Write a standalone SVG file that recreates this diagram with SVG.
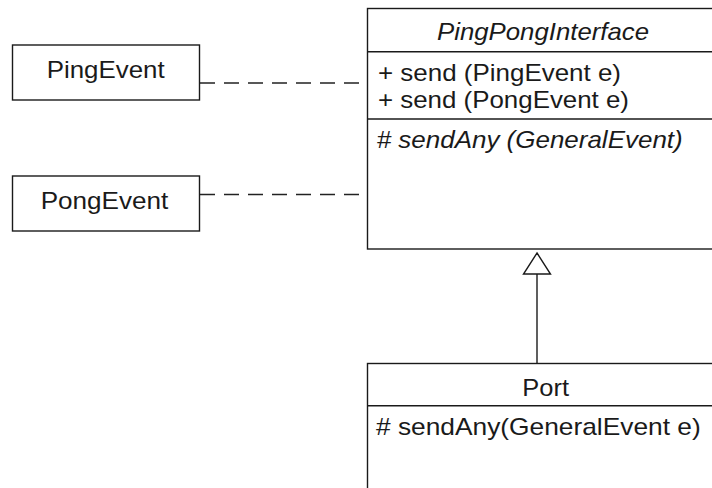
<svg xmlns="http://www.w3.org/2000/svg" width="712" height="488" viewBox="0 0 712 488">
<style>
.box{fill:#fff;stroke:#1a1a1a;stroke-width:1.4}
.div{stroke:#1a1a1a;stroke-width:1.4;fill:none}
.t{font-family:"Liberation Sans",Arial,sans-serif;font-size:24px;fill:#1a1a1a}
.i{font-style:italic}
.dash{stroke:#222;stroke-width:1.4;stroke-dasharray:15 9;fill:none}
.gen{stroke:#1a1a1a;stroke-width:1.4;fill:none}
</style>
<rect width="712" height="488" fill="#fff"/>
<g id="connectors">
<line class="dash" x1="200" y1="83" x2="367" y2="83"/>
<line class="dash" x1="200" y1="194.5" x2="367" y2="194.5"/>
<line class="gen" x1="537" y1="274" x2="537" y2="363.5"/>
<polygon class="gen" points="537,253 550.5,274 523.5,274" fill="#fff"/>
</g>
<g id="PingEvent">
<rect class="box" x="12.5" y="45" width="187" height="55"/>
<text class="t" x="46.7" y="77.5" textLength="118" lengthAdjust="spacingAndGlyphs">PingEvent</text>
</g>
<g id="PongEvent">
<rect class="box" x="12.5" y="176" width="187" height="55"/>
<text class="t" x="40.7" y="208.5" textLength="127.6" lengthAdjust="spacingAndGlyphs">PongEvent</text>
</g>
<g id="PingPongInterface">
<rect class="box" x="367.5" y="8.5" width="360" height="240.5"/>
<line class="div" x1="367.5" y1="51.7" x2="720" y2="51.7"/>
<line class="div" x1="367.5" y1="119" x2="720" y2="119"/>
<text class="t i" x="437" y="39.5" textLength="212" lengthAdjust="spacingAndGlyphs">PingPongInterface</text>
<text class="t" x="378" y="80.5" textLength="243" lengthAdjust="spacingAndGlyphs">+ send (PingEvent e)</text>
<text class="t" x="378" y="107.5" textLength="251" lengthAdjust="spacingAndGlyphs">+ send (PongEvent e)</text>
<text class="t i" x="376.7" y="147.5" textLength="306" lengthAdjust="spacingAndGlyphs"># sendAny (GeneralEvent)</text>
</g>
<g id="Port">
<rect class="box" x="367.5" y="363.5" width="360" height="140"/>
<line class="div" x1="367.5" y1="405.7" x2="720" y2="405.7"/>
<text class="t" x="522.3" y="396" textLength="46.7" lengthAdjust="spacingAndGlyphs">Port</text>
<text class="t" x="376" y="435" textLength="324.7" lengthAdjust="spacingAndGlyphs"># sendAny(GeneralEvent e)</text>
</g>
</svg>
